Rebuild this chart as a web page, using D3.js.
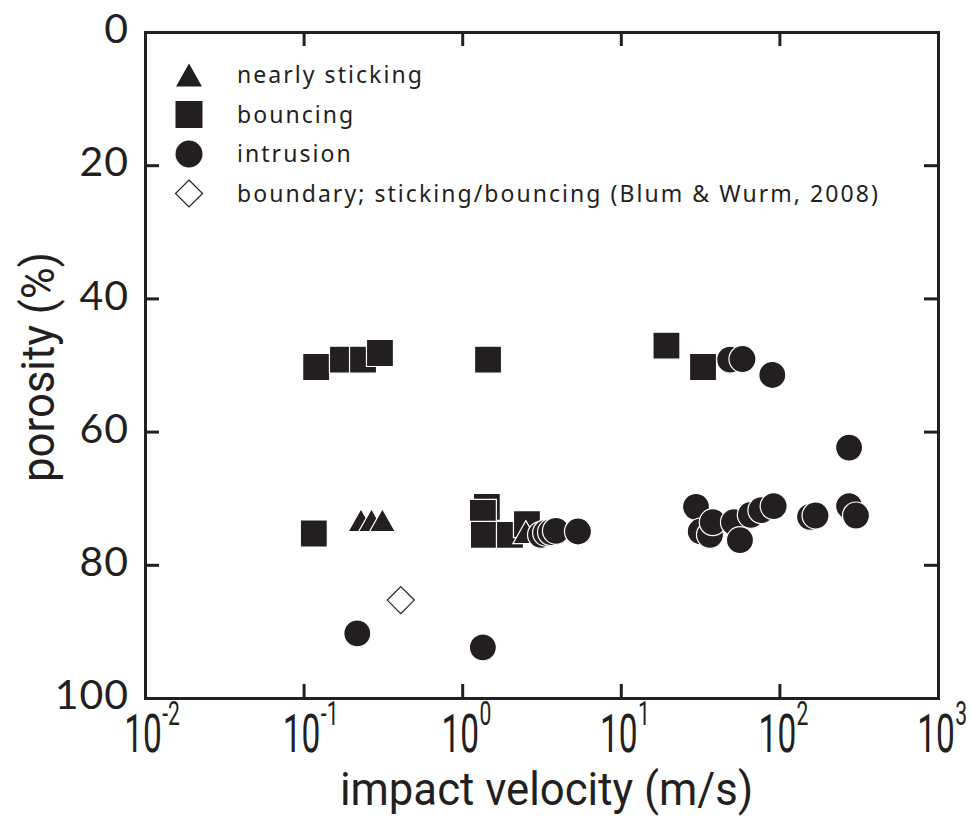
<!DOCTYPE html>
<html lang="en">
<head>
<meta charset="UTF-8">
<title>porosity vs impact velocity</title>
<script src="https://d3js.org/d3.v7.min.js"></script>
<style>
    body { margin: 0; background: #fff; }
    svg { display: block; }
    .frame path, .frame line { stroke: #231f20; stroke-width: 3; }
    .ylab text { font-family: "Lato", sans-serif; font-size: 41px; letter-spacing: 1px; fill: #231f20; }
    .cond { font-family: "Roboto", sans-serif; fill: #231f20; }
    .legend text { font-family: "Noto Sans", sans-serif; font-size: 23px; letter-spacing: 2.05px; fill: #231f20; }
</style>
</head>
<body>
<div id="chart"></div>
<script>
    const width = 978, height = 820;
    const margin = { left: 145, right: 40, top: 32, bottom: 122 };

    // data
    const stickVel = [0.23, 0.268, 0.314, 2.52];
    const stickPor = [73.3, 73.3, 73.3, 75.1];

    const bounceVel = [0.12, 0.177, 0.237, 0.303, 1.455, 0.116, 1.43, 1.35, 1.37, 2.0, 2.56, 19.4, 33];
    const bouncePor = [50.3, 49.2, 49.2, 48.2, 49.2, 75.3, 71.3, 72.2, 75.5, 75.5, 73.9, 47.1, 50.3];

    const intrVel = [0.218, 1.35, 3.14, 3.38, 3.63, 3.9, 5.37, 48.9, 58.5, 90.2, 275,
                     29.8, 31.9, 36.5, 38, 51.7, 56.4, 66, 77, 92, 156, 169, 275, 304];
    const intrPor = [90.3, 92.4, 75.5, 75.2, 75.1, 74.9, 75.0, 49.2, 49.1, 51.5, 62.4,
                     71.3, 75.0, 75.5, 73.6, 73.6, 76.3, 72.5, 71.8, 71.2, 72.8, 72.6, 71.2, 72.6];

    const boundVel = [0.41];
    const boundPor = [85.3];

    const xTicks = [1e-2, 1e-1, 1e0, 1e1, 1e2, 1e3];
    const xExp = ["-2", "-1", "0", "1", "2", "3"];
    const yTicks = [0, 20, 40, 60, 80, 100];

    const legendLabels = ["nearly sticking", "bouncing", "intrusion",
                          "boundary; sticking/bouncing (Blum & Wurm, 2008)"];

    const svg = d3.select("#chart").append("svg")
        .attr("width", width).attr("height", height);

    const x = d3.scaleLog().domain([1e-2, 1e3]).range([margin.left, width - margin.right]);
    const y = d3.scaleLinear().domain([0, 100]).range([margin.top, height - margin.bottom]);

    // frame with inward ticks on all four sides
    const tl = 14;
    svg.append("g").attr("class", "frame")
        .attr("transform", `translate(0,${y(100)})`)
        .call(d3.axisBottom(x).tickValues(xTicks).tickSize(-tl).tickSizeOuter(0).tickFormat(""));
    svg.append("g").attr("class", "frame")
        .attr("transform", `translate(0,${y(0)})`)
        .call(d3.axisTop(x).tickValues(xTicks).tickSize(-tl).tickSizeOuter(0).tickFormat(""));
    svg.append("g").attr("class", "frame ylab")
        .attr("transform", `translate(${x(1e-2)},0)`)
        .call(d3.axisLeft(y).tickValues(yTicks).tickSize(-tl).tickSizeOuter(0).tickPadding(16))
        .selectAll("text").attr("dy", "0.26em");
    svg.append("g").attr("class", "frame")
        .attr("transform", `translate(${x(1e3)},0)`)
        .call(d3.axisRight(y).tickValues(yTicks).tickSize(-tl).tickSizeOuter(0).tickFormat(""));
    svg.selectAll(".frame .domain").attr("stroke-linecap", "square");

    // log tick labels 10^n
    const xl = svg.append("g");
    xTicks.forEach((v, i) => {
        const g = xl.append("g").attr("transform", `translate(${x(v) - 2},752) scale(0.62,1)`);
        g.append("text").attr("class", "cond").attr("text-anchor", "middle")
            .style("font-size", "54px").text("10");
        g.append("text").attr("class", "cond").attr("x", 31).attr("y", -27)
            .style("font-size", "34px").text(xExp[i]);
    });

    // axis titles
    svg.append("text").attr("class", "cond")
        .attr("transform", `translate(${(x(1e-2) + x(1e3)) / 2 + 5},805) scale(0.95,1)`)
        .attr("text-anchor", "middle").style("font-size", "46px")
        .text("impact velocity (m/s)");
    svg.append("text").attr("class", "cond")
        .attr("transform", `translate(54,367) rotate(-90) scale(0.95,1)`)
        .attr("text-anchor", "middle").style("font-size", "46px")
        .text("porosity (%)");

    const ink = "#231f20";
    const sq = d3.symbol().type(d3.symbolSquare).size(27 * 27);
    const ci = d3.symbol().type(d3.symbolCircle).size(Math.PI * 13.5 * 13.5);
    const tri = "M0,-11.5L13,11.5L-13,11.5Z";
    const dia = "M0,-13.5L13.5,0L0,13.5L-13.5,0Z";

    function pts(vel, por, pathD, cls) {
        svg.append("g").selectAll("path")
            .data(vel.map((v, i) => [v, por[i]]))
            .join("path")
            .attr("class", cls)
            .attr("transform", d => `translate(${x(d[0])},${y(d[1])})`)
            .attr("d", pathD);
    }

    pts(bounceVel, bouncePor, sq(), "m-sq");
    pts(stickVel, stickPor, tri, "m-tri");
    pts(intrVel, intrPor, ci(), "m-ci");
    pts(boundVel, boundPor, dia, "m-dia");

    svg.selectAll(".m-sq, .m-tri, .m-ci")
        .attr("fill", ink).attr("stroke", "#fff").attr("stroke-width", 1.2);
    svg.selectAll(".m-dia").attr("fill", "#fff").attr("stroke", ink).attr("stroke-width", 1.2);

    // legend
    const lg = svg.append("g").attr("class", "legend");
    const shapes = [tri, sq(), ci(), dia];
    legendLabels.forEach((t, i) => {
        const yy = 75 + i * 39.5;
        lg.append("path").attr("transform", `translate(189,${yy})`).attr("d", shapes[i])
            .attr("fill", i === 3 ? "#fff" : ink)
            .attr("stroke", i === 3 ? ink : "none").attr("stroke-width", 1.2);
        lg.append("text").attr("x", 237).attr("y", yy + 8).text(t);
    });
</script>
</body>
</html>
